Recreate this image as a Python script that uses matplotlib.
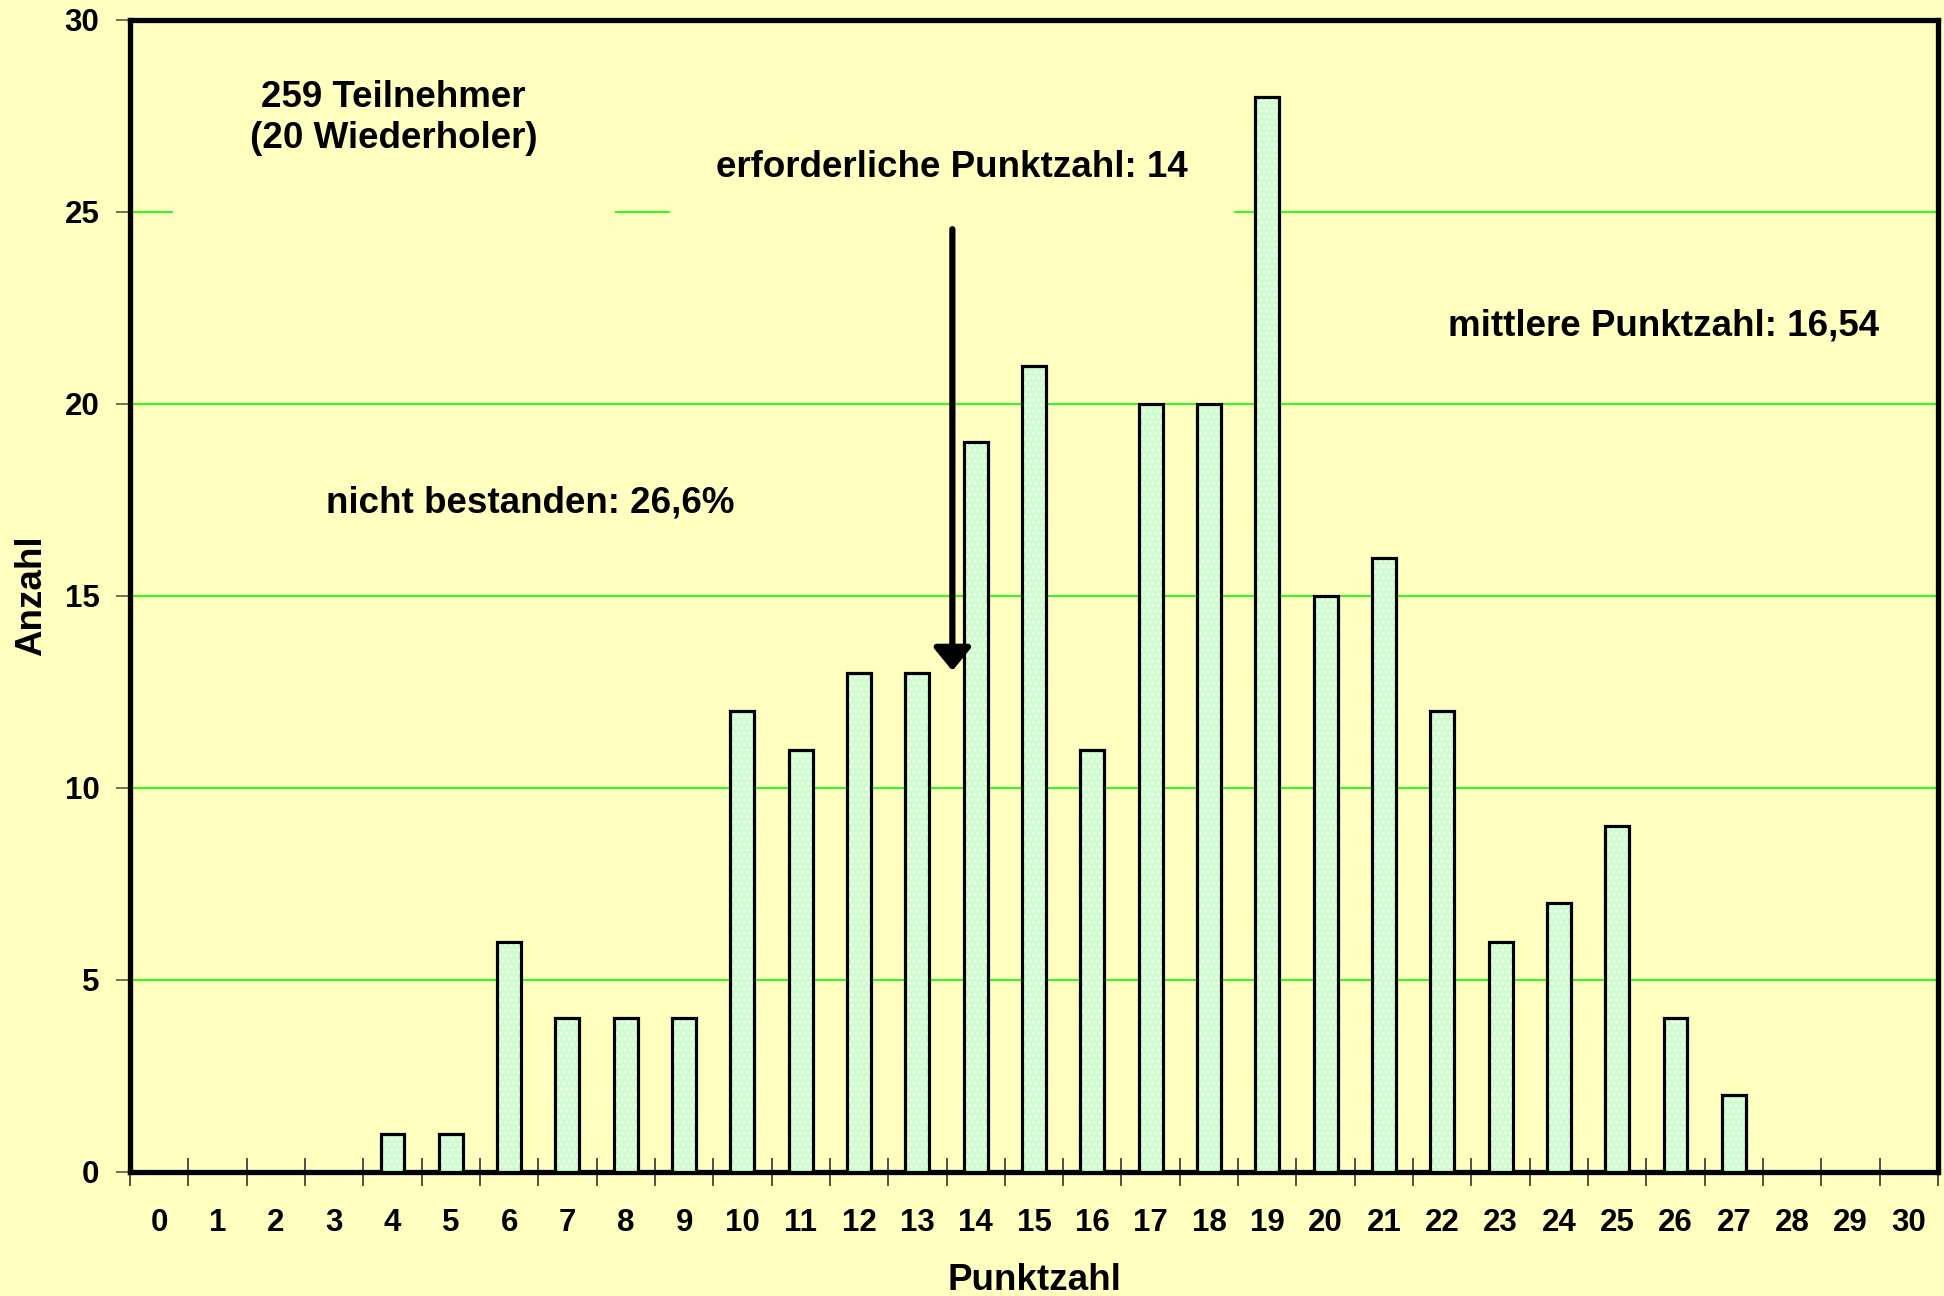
import matplotlib
matplotlib.use("Agg")
import matplotlib.pyplot as plt
import numpy as np

# Data
punktzahl = list(range(31))
anzahl = [0, 0, 0, 0, 1, 1, 6, 4, 4, 4, 12, 11, 13, 13, 19, 21, 11, 20, 20, 28,
          15, 16, 12, 6, 7, 9, 4, 2, 0, 0, 0]
y_ticks = [0, 5, 10, 15, 20, 25, 30]

bg = "#FFFFC0"
bar_green = "#CCFFCC"
grid_green = "#00FF00"

plt.rcParams["font.family"] = ["Liberation Sans", "DejaVu Sans"]
plt.rcParams["font.weight"] = "bold"
plt.rcParams["hatch.linewidth"] = 1.2

fig = plt.figure(figsize=(19.44, 12.96), dpi=100, facecolor=bg)
ax = fig.add_axes([0.0669, 0.0957, 0.930, 0.8889], facecolor=bg)

x = np.array(punktzahl)
y = np.array(anzahl)

# bars: dotted fill, then black outline on top
ax.bar(x, y, width=0.41, color=bar_green, edgecolor="white", hatch="...",
       linewidth=0, zorder=3)
ax.bar(x[y > 0], y[y > 0], width=0.41, fill=False, edgecolor="black",
       linewidth=2.3, zorder=3.1)

ax.set_xlim(-0.5, 30.5)
ax.set_ylim(0, 30)

# grid lines
ax.set_yticks(y_ticks)
ax.yaxis.grid(True, color=grid_green, linewidth=1.2, zorder=0.5)
ax.set_axisbelow(True)

for s in ax.spines.values():
    s.set_linewidth(3.8)
    s.set_color("black")

ax.set_xticks(punktzahl)
ax.set_xticks(np.arange(-0.5, 31, 1), minor=True)
ax.tick_params(axis="x", which="major", length=0, pad=26, labelsize=22.5)
ax.tick_params(axis="x", which="minor", direction="inout", length=20,
               width=1.2, color="#333333")
ax.tick_params(axis="y", direction="out", length=10, width=1.2,
               color="#555555", pad=12, labelsize=22.5)
for lbl in ax.get_xticklabels() + ax.get_yticklabels():
    lbl.set_fontweight("bold")

ax.set_xlabel("Punktzahl", fontsize=26.5, fontweight="bold", labelpad=18)
ax.set_ylabel("Anzahl", fontsize=26.5, fontweight="bold", labelpad=11)

# annotations (text boxes with background fill hide the grid lines)
ax.text(4.02, 27.45, "259 Teilnehmer\n(20 Wiederholer)", ha="center",
        va="center", fontsize=26.5, fontweight="bold", linespacing=1.2,
        zorder=0.8, clip_on=True,
        bbox=dict(boxstyle="square,pad=2.1", facecolor=bg, edgecolor="none"))
ax.text(13.6, 26.17, "erforderliche Punktzahl: 14", ha="center", va="center",
        fontsize=26.5, fontweight="bold", zorder=0.8, clip_on=True,
        bbox=dict(boxstyle="square,pad=1.25", facecolor=bg, edgecolor="none"))
ax.text(25.8, 22.03, "mittlere Punktzahl: 16,54", ha="center", va="center",
        fontsize=26.5, fontweight="bold", zorder=0.8)
ax.text(6.36, 17.42, "nicht bestanden: 26,6%", ha="center", va="center",
        fontsize=26.5, fontweight="bold", zorder=0.8)

ax.annotate("", xy=(13.6, 13.05), xytext=(13.6, 24.55),
            arrowprops=dict(arrowstyle="-|>,head_length=0.55,head_width=0.45",
                            lw=4.5, color="black", mutation_scale=25,
                            shrinkA=0, shrinkB=0),
            zorder=4)

fig.savefig("out.png", dpi=100, facecolor=bg)
